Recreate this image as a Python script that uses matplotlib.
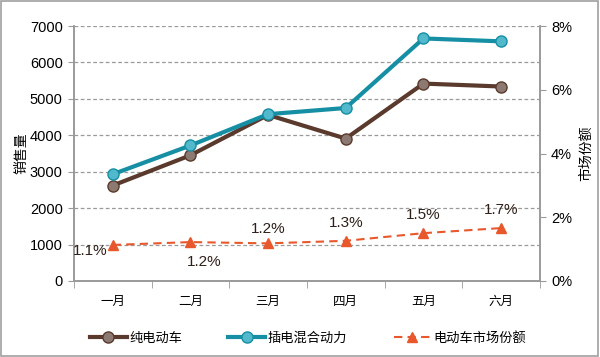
import matplotlib
matplotlib.use("Agg")
import matplotlib.pyplot as plt
from matplotlib.patches import Rectangle

plt.rcParams['font.family'] = ['Liberation Sans', 'Noto Sans CJK SC', 'DejaVu Sans']

months = ['一月', '二月', '三月', '四月', '五月', '六月']
bev = [2620, 3450, 4560, 3910, 5420, 5340]
phev = [2930, 3720, 4580, 4750, 6660, 6580]
share = [1.13, 1.22, 1.18, 1.26, 1.50, 1.66]
# where each share label sits relative to its point (dx, dy in points)
label_offsets = [(-16, -4), (10, -14), (0, 10), (0, 13), (0, 13), (0, 13)]

brown = '#5a3a2c'
teal = '#168fa4'
orange = '#e8582c'
grid_c = '#9a9a9a'

fig = plt.figure(figsize=(6, 3.57), dpi=100)
fig.patches.append(Rectangle((0.002, 0.003), 0.995, 0.993, transform=fig.transFigure,
                             fill=False, edgecolor='#a0a0a0', linewidth=1.2))
ax = fig.add_axes([0.123, 0.213, 0.777, 0.714])
x = list(range(len(months)))

ax.plot(x, bev, color=brown, lw=3, marker='o', ms=8, mfc='#8c7a72',
        mec=brown, mew=1, label='纯电动车', zorder=3)
ax.plot(x, phev, color=teal, lw=3, marker='o', ms=8, mfc='#52b8cc',
        mec=teal, mew=1, label='插电混合动力', zorder=3)

ax.set_xlim(-0.5, 5.5)
ax.set_ylim(0, 7000)
ax.set_yticks(range(0, 7001, 1000))
ax.set_xticks(x)
ax.set_xticklabels(months, fontsize=9, family=['Noto Sans CJK SC'])
ax.set_xticks([i - 0.5 for i in range(7)], minor=True)
ax.tick_params(axis='x', which='major', length=0, pad=10)
ax.tick_params(axis='x', which='minor', length=5, color=grid_c)
ax.tick_params(axis='y', length=4, color=grid_c, labelsize=10.5, pad=4)
ax.yaxis.grid(True, linestyle=(0, (3, 2)), color=grid_c, lw=0.9)
ax.set_axisbelow(True)
ax.spines['top'].set_visible(False)
for s in ['left', 'right', 'bottom']:
    ax.spines[s].set_color(grid_c)
    ax.spines[s].set_linewidth(1.2)
ax.set_ylabel('销售量', fontsize=10, family=['Noto Sans CJK SC'], labelpad=1)

ax2 = ax.twinx()
ax2.plot(x, share, color=orange, lw=1.5, ls=(0, (4, 2.5)), marker='^', ms=7,
         mfc=orange, mec=orange, label='电动车市场份额', zorder=4)
for xi, v, (dx, dy) in zip(x, share, label_offsets):
    ax2.annotate(f'{v:.1f}%', (xi, v), xytext=(dx, dy), textcoords='offset points',
                 ha='center', va='center', fontsize=11, color='#2e1f18')
ax2.set_ylim(0, 8)
ax2.set_yticks([0, 2, 4, 6, 8])
ax2.set_yticklabels(['0%', '2%', '4%', '6%', '8%'])
ax2.tick_params(axis='y', length=4, color=grid_c, labelsize=10.5, pad=4)
ax2.spines['top'].set_visible(False)
for s in ['left', 'right', 'bottom']:
    ax2.spines[s].set_color(grid_c)
    ax2.spines[s].set_linewidth(1.2)
ax2.set_ylabel('市场份额', fontsize=10, family=['Noto Sans CJK SC'], labelpad=5)

h1, l1 = ax.get_legend_handles_labels()
h2, l2 = ax2.get_legend_handles_labels()
fig.legend(h1 + h2, l1 + l2, loc='center', bbox_to_anchor=(0.513, 0.052), ncol=3,
           frameon=False, prop={'family': ['Noto Sans CJK SC'], 'size': 9.5},
           handlelength=2.8, columnspacing=3.5, handletextpad=0.2)

plt.savefig('out.png', dpi=100)
